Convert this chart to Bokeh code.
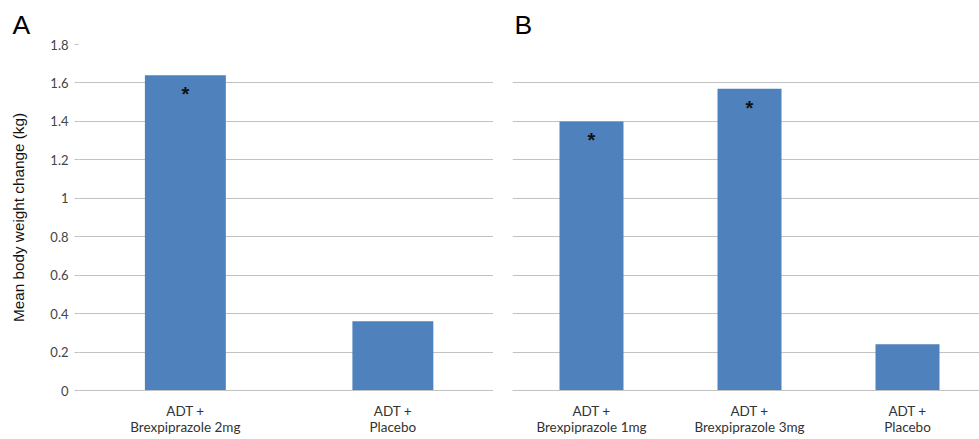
from bokeh.plotting import figure
from bokeh.layouts import row
from bokeh.models import FixedTicker, Range1d, ColumnDataSource
from bokeh.core.properties import value
from bokeh.embed import file_html
from bokeh.resources import INLINE

# ---- data ----
cats_a = ["ADT +\nBrexpiprazole 2mg", "ADT +\nPlacebo"]
vals_a = [1.64, 0.36]
star_a = ["*", ""]

cats_b = ["ADT +\nBrexpiprazole 1mg", "ADT +\nBrexpiprazole 3mg", "ADT +\nPlacebo"]
vals_b = [1.40, 1.57, 0.24]
star_b = ["*", "*", ""]

y_ticks = [0, 0.2, 0.4, 0.6, 0.8, 1.0, 1.2, 1.4, 1.6, 1.8]
y_tick_labels = ["0", "0.2", "0.4", "0.6", "0.8", "1", "1.2", "1.4", "1.6", "1.8"]
y_label = "Mean body weight change (kg)"

BAR = "#4f81bd"
GRID = "#c2c2c2"
TICK_FONT = "Lato"
ARIAL = "Liberation Sans"
FRAME_H = 346


def panel(title, cats, vals, stars, x_start, x_end, frame_w, border_left,
          show_y, bar_w, title_offset):
    xs = [i + 0.5 for i in range(len(cats))]
    src = ColumnDataSource(dict(x=xs, top=vals, star=stars))
    p = figure(output_backend="svg", toolbar_location=None,
               frame_width=frame_w, frame_height=FRAME_H,
               min_border_left=border_left, min_border_right=0,
               min_border_top=44, min_border_bottom=0,
               x_range=Range1d(x_start, x_end), y_range=Range1d(0, 1.8),
               title=title)
    p.vbar(x="x", top="top", width=bar_w, bottom=0, source=src,
           fill_color=BAR, line_color=None)
    p.text(x="x", y="top", text="star", source=src, y_offset=19,
           text_align="center", text_baseline="alphabetic",
           text_font=value(ARIAL), text_font_size="20px",
           text_font_style="bold", text_color="#111111")

    p.title.text_font = ARIAL
    p.title.text_font_size = "26.5px"
    p.title.text_font_style = "normal"
    p.title.text_color = "#000000"
    p.title.align = "left"
    p.title.vertical_align = "top"
    p.title.text_line_height = 0.7
    p.title.standoff = 6
    p.title.offset = title_offset

    p.outline_line_color = None
    p.xgrid.grid_line_color = None
    p.ygrid.grid_line_color = GRID
    p.ygrid.ticker = FixedTicker(ticks=y_ticks)

    xa = p.xaxis[0]
    xa.ticker = FixedTicker(ticks=xs)
    xa.major_label_overrides = {x: c for x, c in zip(xs, cats)}
    xa.major_tick_line_color = None
    xa.minor_tick_line_color = None
    xa.axis_line_color = GRID
    xa.major_label_text_font = TICK_FONT
    xa.major_label_text_font_size = "13.5px"
    xa.major_label_text_line_height = 1.0
    xa.major_label_text_color = "#333333"
    xa.major_label_standoff = 6

    ya = p.yaxis[0]
    ya.ticker = FixedTicker(ticks=y_ticks)
    ya.major_label_overrides = {t: l for t, l in zip(y_ticks, y_tick_labels)}
    ya.axis_line_color = None
    ya.minor_tick_line_color = None
    ya.major_tick_line_color = GRID
    ya.major_tick_in = 0
    ya.major_tick_out = 4
    ya.major_label_text_font = TICK_FONT
    ya.major_label_text_font_size = "13px"
    ya.major_label_text_color = "#444444"
    ya.major_label_standoff = 6
    if show_y:
        ya.axis_label = y_label
        ya.axis_label_text_font = ARIAL
        ya.axis_label_text_font_size = "15.3px"
        ya.axis_label_text_font_style = "normal"
        ya.axis_label_text_color = "#111111"
        ya.axis_label_standoff = 20
    else:
        ya.visible = False
    return p


pa = panel("A", cats_a, vals_a, star_a, -0.015, 1.985, 415, 78, True, 0.39, -66)
pb = panel("B", cats_b, vals_b, star_b, 0, 467 / 158, 467, 19, False, 0.405, 2)

layout = row(pa, pb)
open("out.html", "w").write(file_html(layout, INLINE))
